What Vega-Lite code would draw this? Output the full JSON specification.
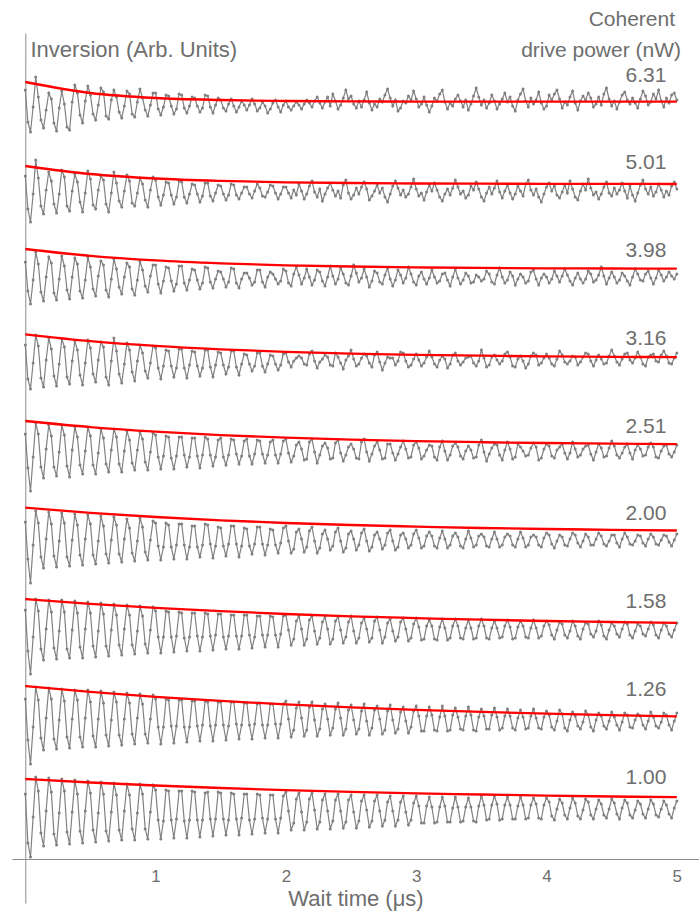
{
  "$schema": "https://vega.github.io/schema/vega-lite/v6.json",
  "width": 687,
  "height": 870,
  "autosize": {"type": "none"},
  "padding": {"left": 12, "top": 33, "right": 0, "bottom": 16},
  "background": "white",
  "config": {"view": {"stroke": null}, "font": "Liberation Sans"},
  "datasets": {
    "p100": [
      {"t":0,"v":10.9},{"t":0.02,"v":6.0},{"t":0.04,"v":4.6},{"t":0.06,"v":8.6},{"t":0.08,"v":12.6},
      {"t":0.1,"v":11.2},{"t":0.12,"v":7.0},{"t":0.14,"v":5.7},{"t":0.16,"v":9.2},{"t":0.18,"v":12.5},
      {"t":0.2,"v":11.1},{"t":0.22,"v":6.9},{"t":0.24,"v":5.8},{"t":0.26,"v":9.0},{"t":0.28,"v":12.4},
      {"t":0.3,"v":11.2},{"t":0.32,"v":7.1},{"t":0.34,"v":5.9},{"t":0.36,"v":9.1},{"t":0.38,"v":12.3},
      {"t":0.4,"v":10.9},{"t":0.42,"v":7.2},{"t":0.44,"v":6.0},{"t":0.46,"v":9.2},{"t":0.48,"v":12.2},
      {"t":0.5,"v":11.0},{"t":0.52,"v":7.3},{"t":0.54,"v":6.1},{"t":0.56,"v":9.0},{"t":0.58,"v":12.1},
      {"t":0.6,"v":10.9},{"t":0.62,"v":7.2},{"t":0.64,"v":6.2},{"t":0.66,"v":9.1},{"t":0.68,"v":12.0},
      {"t":0.7,"v":10.8},{"t":0.72,"v":7.3},{"t":0.74,"v":6.3},{"t":0.76,"v":9.2},{"t":0.78,"v":11.9},
      {"t":0.8,"v":10.8},{"t":0.82,"v":7.4},{"t":0.84,"v":6.3},{"t":0.86,"v":9.0},{"t":0.88,"v":11.9},
      {"t":0.9,"v":10.9},{"t":0.92,"v":7.4},{"t":0.94,"v":6.4},{"t":0.96,"v":9.1},{"t":0.98,"v":11.8},
      {"t":1,"v":11.3},{"t":1.02,"v":8.3},{"t":1.04,"v":6.4},{"t":1.06,"v":8.2},{"t":1.08,"v":11.3},
      {"t":1.1,"v":11.2},{"t":1.12,"v":8.3},{"t":1.14,"v":6.5},{"t":1.16,"v":8.4},{"t":1.18,"v":11.2},
      {"t":1.2,"v":11.2},{"t":1.22,"v":8.2},{"t":1.24,"v":6.5},{"t":1.26,"v":8.3},{"t":1.28,"v":11.2},
      {"t":1.3,"v":11.1},{"t":1.32,"v":8.3},{"t":1.34,"v":6.6},{"t":1.36,"v":8.3},{"t":1.38,"v":11.0},
      {"t":1.4,"v":11.1},{"t":1.42,"v":8.4},{"t":1.44,"v":6.7},{"t":1.46,"v":8.4},{"t":1.48,"v":11.1},
      {"t":1.5,"v":11.0},{"t":1.52,"v":8.4},{"t":1.54,"v":6.8},{"t":1.56,"v":8.3},{"t":1.58,"v":11.0},
      {"t":1.6,"v":10.9},{"t":1.62,"v":8.4},{"t":1.64,"v":6.8},{"t":1.66,"v":8.5},{"t":1.68,"v":10.9},
      {"t":1.7,"v":10.9},{"t":1.72,"v":8.3},{"t":1.74,"v":6.9},{"t":1.76,"v":8.4},{"t":1.78,"v":10.9},
      {"t":1.8,"v":10.8},{"t":1.82,"v":8.5},{"t":1.84,"v":7.0},{"t":1.86,"v":8.4},{"t":1.88,"v":10.8},
      {"t":1.9,"v":10.8},{"t":1.92,"v":8.4},{"t":1.94,"v":7.0},{"t":1.96,"v":8.5},{"t":1.98,"v":10.7},
      {"t":2,"v":11.1},{"t":2.02,"v":9.2},{"t":2.04,"v":7.3},{"t":2.06,"v":8.0},{"t":2.08,"v":10.4},
      {"t":2.1,"v":11.0},{"t":2.12,"v":9.1},{"t":2.14,"v":7.3},{"t":2.16,"v":8.1},{"t":2.18,"v":10.4},
      {"t":2.2,"v":11.0},{"t":2.22,"v":9.3},{"t":2.24,"v":7.4},{"t":2.26,"v":8.1},{"t":2.28,"v":10.3},
      {"t":2.3,"v":10.9},{"t":2.32,"v":9.2},{"t":2.34,"v":7.4},{"t":2.36,"v":8.2},{"t":2.38,"v":10.3},
      {"t":2.4,"v":10.9},{"t":2.42,"v":9.2},{"t":2.44,"v":7.5},{"t":2.46,"v":8.1},{"t":2.48,"v":10.3},
      {"t":2.5,"v":10.8},{"t":2.52,"v":9.1},{"t":2.54,"v":7.5},{"t":2.56,"v":8.2},{"t":2.58,"v":10.2},
      {"t":2.6,"v":10.8},{"t":2.62,"v":9.3},{"t":2.64,"v":7.6},{"t":2.66,"v":8.2},{"t":2.68,"v":10.2},
      {"t":2.7,"v":10.8},{"t":2.72,"v":9.2},{"t":2.74,"v":7.7},{"t":2.76,"v":8.3},{"t":2.78,"v":10.1},
      {"t":2.8,"v":10.7},{"t":2.82,"v":9.2},{"t":2.84,"v":7.7},{"t":2.86,"v":8.3},{"t":2.88,"v":10.1},
      {"t":2.9,"v":10.7},{"t":2.92,"v":9.1},{"t":2.94,"v":7.8},{"t":2.96,"v":8.3},{"t":2.98,"v":10.0},
      {"t":3,"v":10.7},{"t":3.02,"v":9.7},{"t":3.04,"v":8.0},{"t":3.06,"v":8.0},{"t":3.08,"v":9.7},
      {"t":3.1,"v":10.6},{"t":3.12,"v":9.6},{"t":3.14,"v":8.0},{"t":3.16,"v":8.1},{"t":3.18,"v":9.6},
      {"t":3.2,"v":10.6},{"t":3.22,"v":9.7},{"t":3.24,"v":8.1},{"t":3.26,"v":8.1},{"t":3.28,"v":9.5},
      {"t":3.3,"v":10.6},{"t":3.32,"v":9.6},{"t":3.34,"v":8.1},{"t":3.36,"v":8.2},{"t":3.38,"v":9.6},
      {"t":3.4,"v":10.5},{"t":3.42,"v":9.6},{"t":3.44,"v":8.2},{"t":3.46,"v":8.1},{"t":3.48,"v":9.7},
      {"t":3.5,"v":10.7},{"t":3.52,"v":9.8},{"t":3.54,"v":8.3},{"t":3.56,"v":8.4},{"t":3.58,"v":9.8},
      {"t":3.6,"v":10.7},{"t":3.62,"v":9.9},{"t":3.64,"v":8.3},{"t":3.66,"v":8.4},{"t":3.68,"v":9.8},
      {"t":3.7,"v":10.6},{"t":3.72,"v":9.8},{"t":3.74,"v":8.4},{"t":3.76,"v":8.4},{"t":3.78,"v":9.7},
      {"t":3.8,"v":10.6},{"t":3.82,"v":9.8},{"t":3.84,"v":8.4},{"t":3.86,"v":8.5},{"t":3.88,"v":9.8},
      {"t":3.9,"v":10.5},{"t":3.92,"v":9.9},{"t":3.94,"v":8.5},{"t":3.96,"v":8.4},{"t":3.98,"v":9.8},
      {"t":4,"v":10.5},{"t":4.02,"v":10.1},{"t":4.04,"v":8.7},{"t":4.06,"v":8.3},{"t":4.08,"v":9.4},
      {"t":4.1,"v":10.4},{"t":4.12,"v":10.0},{"t":4.14,"v":8.8},{"t":4.16,"v":8.4},{"t":4.18,"v":9.5},
      {"t":4.2,"v":10.5},{"t":4.22,"v":10.0},{"t":4.24,"v":8.7},{"t":4.26,"v":8.4},{"t":4.28,"v":9.3},
      {"t":4.3,"v":10.4},{"t":4.32,"v":10.1},{"t":4.34,"v":8.8},{"t":4.36,"v":8.4},{"t":4.38,"v":9.4},
      {"t":4.4,"v":10.3},{"t":4.42,"v":9.9},{"t":4.44,"v":8.8},{"t":4.46,"v":8.5},{"t":4.48,"v":9.4},
      {"t":4.5,"v":10.4},{"t":4.52,"v":10.0},{"t":4.54,"v":8.9},{"t":4.56,"v":8.4},{"t":4.58,"v":9.5},
      {"t":4.6,"v":10.3},{"t":4.62,"v":10.0},{"t":4.64,"v":8.8},{"t":4.66,"v":8.5},{"t":4.68,"v":9.3},
      {"t":4.7,"v":10.2},{"t":4.72,"v":9.9},{"t":4.74,"v":8.9},{"t":4.76,"v":8.5},{"t":4.78,"v":9.4},
      {"t":4.8,"v":10.3},{"t":4.82,"v":9.9},{"t":4.84,"v":8.8},{"t":4.86,"v":8.6},{"t":4.88,"v":9.4},
      {"t":4.9,"v":10.2},{"t":4.92,"v":9.8},{"t":4.94,"v":8.9},{"t":4.96,"v":8.5},{"t":4.98,"v":9.5},
      {"t":5,"v":10.2}
    ],
    "p126": [
      {"t":0,"v":20.4},{"t":0.02,"v":16.3},{"t":0.04,"v":13.9},{"t":0.06,"v":17.6},{"t":0.08,"v":21.6},
      {"t":0.1,"v":20.3},{"t":0.12,"v":16.5},{"t":0.14,"v":15.3},{"t":0.16,"v":18.5},{"t":0.18,"v":21.5},
      {"t":0.2,"v":20.4},{"t":0.22,"v":16.4},{"t":0.24,"v":15.4},{"t":0.26,"v":18.3},{"t":0.28,"v":21.4},
      {"t":0.3,"v":20.2},{"t":0.32,"v":16.6},{"t":0.34,"v":15.5},{"t":0.36,"v":18.4},{"t":0.38,"v":21.3},
      {"t":0.4,"v":20.3},{"t":0.42,"v":16.6},{"t":0.44,"v":15.6},{"t":0.46,"v":18.5},{"t":0.48,"v":21.3},
      {"t":0.5,"v":20.1},{"t":0.52,"v":16.7},{"t":0.54,"v":15.6},{"t":0.56,"v":18.4},{"t":0.58,"v":21.2},
      {"t":0.6,"v":20.0},{"t":0.62,"v":16.8},{"t":0.64,"v":15.7},{"t":0.66,"v":18.3},{"t":0.68,"v":21.1},
      {"t":0.7,"v":20.1},{"t":0.72,"v":16.8},{"t":0.74,"v":15.8},{"t":0.76,"v":18.4},{"t":0.78,"v":21.0},
      {"t":0.8,"v":20.0},{"t":0.82,"v":16.9},{"t":0.84,"v":15.9},{"t":0.86,"v":18.5},{"t":0.88,"v":20.9},
      {"t":0.9,"v":19.9},{"t":0.92,"v":16.9},{"t":0.94,"v":16.0},{"t":0.96,"v":18.4},{"t":0.98,"v":20.8},
      {"t":1,"v":20.4},{"t":1.02,"v":17.6},{"t":1.04,"v":15.9},{"t":1.06,"v":17.6},{"t":1.08,"v":20.4},
      {"t":1.1,"v":20.3},{"t":1.12,"v":17.7},{"t":1.14,"v":16.0},{"t":1.16,"v":17.7},{"t":1.18,"v":20.3},
      {"t":1.2,"v":20.3},{"t":1.22,"v":17.6},{"t":1.24,"v":16.1},{"t":1.26,"v":17.6},{"t":1.28,"v":20.2},
      {"t":1.3,"v":20.2},{"t":1.32,"v":17.7},{"t":1.34,"v":16.2},{"t":1.36,"v":17.8},{"t":1.38,"v":20.2},
      {"t":1.4,"v":20.1},{"t":1.42,"v":17.7},{"t":1.44,"v":16.2},{"t":1.46,"v":17.8},{"t":1.48,"v":20.1},
      {"t":1.5,"v":20.1},{"t":1.52,"v":17.8},{"t":1.54,"v":16.3},{"t":1.56,"v":17.7},{"t":1.58,"v":20.1},
      {"t":1.6,"v":20.1},{"t":1.62,"v":17.9},{"t":1.64,"v":16.4},{"t":1.66,"v":17.8},{"t":1.68,"v":20.0},
      {"t":1.7,"v":20.0},{"t":1.72,"v":17.8},{"t":1.74,"v":16.4},{"t":1.76,"v":17.9},{"t":1.78,"v":19.9},
      {"t":1.8,"v":20.0},{"t":1.82,"v":17.8},{"t":1.84,"v":16.5},{"t":1.86,"v":17.8},{"t":1.88,"v":19.9},
      {"t":1.9,"v":19.9},{"t":1.92,"v":17.9},{"t":1.94,"v":16.5},{"t":1.96,"v":17.9},{"t":1.98,"v":19.9},
      {"t":2,"v":20.2},{"t":2.02,"v":18.4},{"t":2.04,"v":16.6},{"t":2.06,"v":17.3},{"t":2.08,"v":19.5},
      {"t":2.1,"v":20.1},{"t":2.12,"v":18.5},{"t":2.14,"v":16.7},{"t":2.16,"v":17.3},{"t":2.18,"v":19.6},
      {"t":2.2,"v":20.1},{"t":2.22,"v":18.3},{"t":2.24,"v":16.7},{"t":2.26,"v":17.4},{"t":2.28,"v":19.4},
      {"t":2.3,"v":19.9},{"t":2.32,"v":18.4},{"t":2.34,"v":16.8},{"t":2.36,"v":17.5},{"t":2.38,"v":19.4},
      {"t":2.4,"v":20.0},{"t":2.42,"v":18.5},{"t":2.44,"v":16.8},{"t":2.46,"v":17.4},{"t":2.48,"v":19.3},
      {"t":2.5,"v":19.8},{"t":2.52,"v":18.3},{"t":2.54,"v":16.9},{"t":2.56,"v":17.4},{"t":2.58,"v":19.2},
      {"t":2.6,"v":19.9},{"t":2.62,"v":18.2},{"t":2.64,"v":16.8},{"t":2.66,"v":17.5},{"t":2.68,"v":19.3},
      {"t":2.7,"v":19.7},{"t":2.72,"v":18.4},{"t":2.74,"v":16.9},{"t":2.76,"v":17.3},{"t":2.78,"v":19.2},
      {"t":2.8,"v":19.8},{"t":2.82,"v":18.3},{"t":2.84,"v":17.0},{"t":2.86,"v":17.4},{"t":2.88,"v":19.1},
      {"t":2.9,"v":19.6},{"t":2.92,"v":18.2},{"t":2.94,"v":17.0},{"t":2.96,"v":17.6},{"t":2.98,"v":19.2},
      {"t":3,"v":19.7},{"t":3.02,"v":18.7},{"t":3.04,"v":17.2},{"t":3.06,"v":17.2},{"t":3.08,"v":18.7},
      {"t":3.1,"v":19.6},{"t":3.12,"v":18.8},{"t":3.14,"v":17.3},{"t":3.16,"v":17.2},{"t":3.18,"v":18.6},
      {"t":3.2,"v":19.7},{"t":3.22,"v":18.7},{"t":3.24,"v":17.2},{"t":3.26,"v":17.3},{"t":3.28,"v":18.8},
      {"t":3.3,"v":19.5},{"t":3.32,"v":18.6},{"t":3.34,"v":17.4},{"t":3.36,"v":17.3},{"t":3.38,"v":18.7},
      {"t":3.4,"v":19.6},{"t":3.42,"v":18.8},{"t":3.44,"v":17.3},{"t":3.46,"v":17.2},{"t":3.48,"v":18.6},
      {"t":3.5,"v":19.4},{"t":3.52,"v":18.7},{"t":3.54,"v":17.4},{"t":3.56,"v":17.4},{"t":3.58,"v":18.8},
      {"t":3.6,"v":19.5},{"t":3.62,"v":18.6},{"t":3.64,"v":17.3},{"t":3.66,"v":17.5},{"t":3.68,"v":18.7},
      {"t":3.7,"v":19.4},{"t":3.72,"v":18.7},{"t":3.74,"v":17.5},{"t":3.76,"v":17.3},{"t":3.78,"v":18.5},
      {"t":3.8,"v":19.3},{"t":3.82,"v":18.6},{"t":3.84,"v":17.4},{"t":3.86,"v":17.5},{"t":3.88,"v":18.7},
      {"t":3.9,"v":19.4},{"t":3.92,"v":18.5},{"t":3.94,"v":17.5},{"t":3.96,"v":17.4},{"t":3.98,"v":18.6},
      {"t":4,"v":19.2},{"t":4.02,"v":18.8},{"t":4.04,"v":17.6},{"t":4.06,"v":17.3},{"t":4.08,"v":18.2},
      {"t":4.1,"v":19.3},{"t":4.12,"v":18.9},{"t":4.14,"v":17.5},{"t":4.16,"v":17.2},{"t":4.18,"v":18.3},
      {"t":4.2,"v":19.1},{"t":4.22,"v":18.7},{"t":4.24,"v":17.7},{"t":4.26,"v":17.4},{"t":4.28,"v":18.1},
      {"t":4.3,"v":19.2},{"t":4.32,"v":18.8},{"t":4.34,"v":17.6},{"t":4.36,"v":17.2},{"t":4.38,"v":18.3},
      {"t":4.4,"v":19.0},{"t":4.42,"v":18.7},{"t":4.44,"v":17.7},{"t":4.46,"v":17.4},{"t":4.48,"v":18.2},
      {"t":4.5,"v":19.1},{"t":4.52,"v":18.6},{"t":4.54,"v":17.8},{"t":4.56,"v":17.3},{"t":4.58,"v":18.1},
      {"t":4.6,"v":19.0},{"t":4.62,"v":18.8},{"t":4.64,"v":17.6},{"t":4.66,"v":17.5},{"t":4.68,"v":18.3},
      {"t":4.7,"v":18.9},{"t":4.72,"v":18.7},{"t":4.74,"v":17.8},{"t":4.76,"v":17.4},{"t":4.78,"v":18.2},
      {"t":4.8,"v":19.1},{"t":4.82,"v":18.6},{"t":4.84,"v":17.7},{"t":4.86,"v":17.5},{"t":4.88,"v":18.1},
      {"t":4.9,"v":19.0},{"t":4.92,"v":18.8},{"t":4.94,"v":17.8},{"t":4.96,"v":17.3},{"t":4.98,"v":18.2},
      {"t":5,"v":19.0}
    ],
    "p158": [
      {"t":0,"v":29.3},{"t":0.02,"v":25.2},{"t":0.04,"v":22.9},{"t":0.06,"v":26.6},{"t":0.08,"v":30.4},
      {"t":0.1,"v":29.2},{"t":0.12,"v":25.4},{"t":0.14,"v":24.3},{"t":0.16,"v":27.4},{"t":0.18,"v":30.3},
      {"t":0.2,"v":29.1},{"t":0.22,"v":25.5},{"t":0.24,"v":24.4},{"t":0.26,"v":27.2},{"t":0.28,"v":30.3},
      {"t":0.3,"v":29.1},{"t":0.32,"v":25.4},{"t":0.34,"v":24.5},{"t":0.36,"v":27.3},{"t":0.38,"v":30.2},
      {"t":0.4,"v":29.0},{"t":0.42,"v":25.6},{"t":0.44,"v":24.5},{"t":0.46,"v":27.4},{"t":0.48,"v":30.1},
      {"t":0.5,"v":29.0},{"t":0.52,"v":25.7},{"t":0.54,"v":24.6},{"t":0.56,"v":27.2},{"t":0.58,"v":30.0},
      {"t":0.6,"v":28.9},{"t":0.62,"v":25.7},{"t":0.64,"v":24.7},{"t":0.66,"v":27.3},{"t":0.68,"v":29.9},
      {"t":0.7,"v":28.8},{"t":0.72,"v":25.8},{"t":0.74,"v":24.8},{"t":0.76,"v":27.4},{"t":0.78,"v":29.8},
      {"t":0.8,"v":28.8},{"t":0.82,"v":25.8},{"t":0.84,"v":24.9},{"t":0.86,"v":27.2},{"t":0.88,"v":29.7},
      {"t":0.9,"v":28.7},{"t":0.92,"v":25.9},{"t":0.94,"v":25.0},{"t":0.96,"v":27.3},{"t":0.98,"v":29.6},
      {"t":1,"v":29.2},{"t":1.02,"v":26.6},{"t":1.04,"v":25.0},{"t":1.06,"v":26.6},{"t":1.08,"v":29.2},
      {"t":1.1,"v":29.1},{"t":1.12,"v":26.6},{"t":1.14,"v":25.1},{"t":1.16,"v":26.7},{"t":1.18,"v":29.1},
      {"t":1.2,"v":29.0},{"t":1.22,"v":26.5},{"t":1.24,"v":25.2},{"t":1.26,"v":26.6},{"t":1.28,"v":29.0},
      {"t":1.3,"v":29.0},{"t":1.32,"v":26.7},{"t":1.34,"v":25.2},{"t":1.36,"v":26.6},{"t":1.38,"v":29.0},
      {"t":1.4,"v":28.9},{"t":1.42,"v":26.7},{"t":1.44,"v":25.3},{"t":1.46,"v":26.8},{"t":1.48,"v":28.9},
      {"t":1.5,"v":28.9},{"t":1.52,"v":26.6},{"t":1.54,"v":25.4},{"t":1.56,"v":26.7},{"t":1.58,"v":28.8},
      {"t":1.6,"v":28.8},{"t":1.62,"v":26.7},{"t":1.64,"v":25.4},{"t":1.66,"v":26.7},{"t":1.68,"v":28.8},
      {"t":1.7,"v":28.8},{"t":1.72,"v":26.8},{"t":1.74,"v":25.5},{"t":1.76,"v":26.6},{"t":1.78,"v":28.7},
      {"t":1.8,"v":28.7},{"t":1.82,"v":26.8},{"t":1.84,"v":25.6},{"t":1.86,"v":26.8},{"t":1.88,"v":28.7},
      {"t":1.9,"v":28.6},{"t":1.92,"v":26.8},{"t":1.94,"v":25.6},{"t":1.96,"v":26.9},{"t":1.98,"v":28.7},
      {"t":2,"v":28.8},{"t":2.02,"v":27.3},{"t":2.04,"v":25.8},{"t":2.06,"v":26.4},{"t":2.08,"v":28.2},
      {"t":2.1,"v":28.7},{"t":2.12,"v":27.4},{"t":2.14,"v":25.8},{"t":2.16,"v":26.4},{"t":2.18,"v":28.3},
      {"t":2.2,"v":28.7},{"t":2.22,"v":27.2},{"t":2.24,"v":25.9},{"t":2.26,"v":26.5},{"t":2.28,"v":28.1},
      {"t":2.3,"v":28.6},{"t":2.32,"v":27.4},{"t":2.34,"v":25.9},{"t":2.36,"v":26.4},{"t":2.38,"v":28.2},
      {"t":2.4,"v":28.6},{"t":2.42,"v":27.3},{"t":2.44,"v":26.0},{"t":2.46,"v":26.6},{"t":2.48,"v":28.1},
      {"t":2.5,"v":28.7},{"t":2.52,"v":27.2},{"t":2.54,"v":26.0},{"t":2.56,"v":26.5},{"t":2.58,"v":28.0},
      {"t":2.6,"v":28.5},{"t":2.62,"v":27.4},{"t":2.64,"v":26.1},{"t":2.66,"v":26.5},{"t":2.68,"v":28.2},
      {"t":2.7,"v":28.6},{"t":2.72,"v":27.3},{"t":2.74,"v":26.0},{"t":2.76,"v":26.6},{"t":2.78,"v":28.0},
      {"t":2.8,"v":28.4},{"t":2.82,"v":27.2},{"t":2.84,"v":26.2},{"t":2.86,"v":26.6},{"t":2.88,"v":28.1},
      {"t":2.9,"v":28.5},{"t":2.92,"v":27.4},{"t":2.94,"v":26.2},{"t":2.96,"v":26.5},{"t":2.98,"v":27.9},
      {"t":3,"v":28.5},{"t":3.02,"v":27.6},{"t":3.04,"v":26.3},{"t":3.06,"v":26.4},{"t":3.08,"v":27.7},
      {"t":3.1,"v":28.3},{"t":3.12,"v":27.7},{"t":3.14,"v":26.4},{"t":3.16,"v":26.3},{"t":3.18,"v":27.6},
      {"t":3.2,"v":28.4},{"t":3.22,"v":27.5},{"t":3.24,"v":26.3},{"t":3.26,"v":26.5},{"t":3.28,"v":27.7},
      {"t":3.3,"v":28.4},{"t":3.32,"v":27.7},{"t":3.34,"v":26.5},{"t":3.36,"v":26.4},{"t":3.38,"v":27.5},
      {"t":3.4,"v":28.3},{"t":3.42,"v":27.5},{"t":3.44,"v":26.4},{"t":3.46,"v":26.5},{"t":3.48,"v":27.7},
      {"t":3.5,"v":28.4},{"t":3.52,"v":27.7},{"t":3.54,"v":26.5},{"t":3.56,"v":26.4},{"t":3.58,"v":27.5},
      {"t":3.6,"v":28.2},{"t":3.62,"v":27.5},{"t":3.64,"v":26.5},{"t":3.66,"v":26.6},{"t":3.68,"v":27.7},
      {"t":3.7,"v":28.3},{"t":3.72,"v":27.6},{"t":3.74,"v":26.4},{"t":3.76,"v":26.5},{"t":3.78,"v":27.6},
      {"t":3.8,"v":28.2},{"t":3.82,"v":27.7},{"t":3.84,"v":26.6},{"t":3.86,"v":26.5},{"t":3.88,"v":27.5},
      {"t":3.9,"v":28.3},{"t":3.92,"v":27.5},{"t":3.94,"v":26.5},{"t":3.96,"v":26.7},{"t":3.98,"v":27.7},
      {"t":4,"v":28.2},{"t":4.02,"v":27.8},{"t":4.04,"v":26.8},{"t":4.06,"v":26.4},{"t":4.08,"v":27.3},
      {"t":4.1,"v":28.1},{"t":4.12,"v":27.9},{"t":4.14,"v":26.8},{"t":4.16,"v":26.5},{"t":4.18,"v":27.2},
      {"t":4.2,"v":28.2},{"t":4.22,"v":27.7},{"t":4.24,"v":26.7},{"t":4.26,"v":26.4},{"t":4.28,"v":27.4},
      {"t":4.3,"v":28.0},{"t":4.32,"v":27.9},{"t":4.34,"v":26.9},{"t":4.36,"v":26.6},{"t":4.38,"v":27.2},
      {"t":4.4,"v":28.2},{"t":4.42,"v":27.8},{"t":4.44,"v":26.7},{"t":4.46,"v":26.4},{"t":4.48,"v":27.3},
      {"t":4.5,"v":28.0},{"t":4.52,"v":27.7},{"t":4.54,"v":26.9},{"t":4.56,"v":26.6},{"t":4.58,"v":27.4},
      {"t":4.6,"v":28.1},{"t":4.62,"v":27.9},{"t":4.64,"v":26.8},{"t":4.66,"v":26.5},{"t":4.68,"v":27.2},
      {"t":4.7,"v":27.9},{"t":4.72,"v":27.7},{"t":4.74,"v":26.9},{"t":4.76,"v":26.7},{"t":4.78,"v":27.4},
      {"t":4.8,"v":28.1},{"t":4.82,"v":27.8},{"t":4.84,"v":26.8},{"t":4.86,"v":26.5},{"t":4.88,"v":27.3},
      {"t":4.9,"v":28.0},{"t":4.92,"v":27.7},{"t":4.94,"v":26.9},{"t":4.96,"v":26.6},{"t":4.98,"v":27.3},
      {"t":5,"v":28.0}
    ],
    "p200": [
      {"t":0,"v":38.1},{"t":0.02,"v":34.4},{"t":0.04,"v":32.0},{"t":0.06,"v":35.8},{"t":0.08,"v":39.2},
      {"t":0.1,"v":38.0},{"t":0.12,"v":34.6},{"t":0.14,"v":33.5},{"t":0.16,"v":36.4},{"t":0.18,"v":39.1},
      {"t":0.2,"v":37.9},{"t":0.22,"v":34.7},{"t":0.24,"v":33.6},{"t":0.26,"v":36.2},{"t":0.28,"v":39.0},
      {"t":0.3,"v":38.0},{"t":0.32,"v":34.6},{"t":0.34,"v":33.7},{"t":0.36,"v":36.3},{"t":0.38,"v":38.9},
      {"t":0.4,"v":37.8},{"t":0.42,"v":34.8},{"t":0.44,"v":33.8},{"t":0.46,"v":36.4},{"t":0.48,"v":38.8},
      {"t":0.5,"v":37.9},{"t":0.52,"v":34.8},{"t":0.54,"v":33.9},{"t":0.56,"v":36.2},{"t":0.58,"v":38.7},
      {"t":0.6,"v":37.7},{"t":0.62,"v":34.9},{"t":0.64,"v":34.0},{"t":0.66,"v":36.3},{"t":0.68,"v":38.6},
      {"t":0.7,"v":37.8},{"t":0.72,"v":34.9},{"t":0.74,"v":34.1},{"t":0.76,"v":36.4},{"t":0.78,"v":38.4},
      {"t":0.8,"v":37.5},{"t":0.82,"v":35.0},{"t":0.84,"v":34.2},{"t":0.86,"v":36.2},{"t":0.88,"v":38.5},
      {"t":0.9,"v":37.6},{"t":0.92,"v":35.1},{"t":0.94,"v":34.3},{"t":0.96,"v":36.3},{"t":0.98,"v":38.2},
      {"t":1,"v":38.0},{"t":1.02,"v":35.7},{"t":1.04,"v":34.3},{"t":1.06,"v":35.6},{"t":1.08,"v":38.0},
      {"t":1.1,"v":37.8},{"t":1.12,"v":35.6},{"t":1.14,"v":34.4},{"t":1.16,"v":35.8},{"t":1.18,"v":37.9},
      {"t":1.2,"v":37.9},{"t":1.22,"v":35.8},{"t":1.24,"v":34.4},{"t":1.26,"v":35.6},{"t":1.28,"v":37.7},
      {"t":1.3,"v":37.7},{"t":1.32,"v":35.6},{"t":1.34,"v":34.6},{"t":1.36,"v":35.8},{"t":1.38,"v":37.9},
      {"t":1.4,"v":37.8},{"t":1.42,"v":35.9},{"t":1.44,"v":34.5},{"t":1.46,"v":35.7},{"t":1.48,"v":37.6},
      {"t":1.5,"v":37.5},{"t":1.52,"v":35.7},{"t":1.54,"v":34.7},{"t":1.56,"v":35.9},{"t":1.58,"v":37.7},
      {"t":1.6,"v":37.7},{"t":1.62,"v":35.9},{"t":1.64,"v":34.6},{"t":1.66,"v":35.7},{"t":1.68,"v":37.5},
      {"t":1.7,"v":37.4},{"t":1.72,"v":35.7},{"t":1.74,"v":34.9},{"t":1.76,"v":35.9},{"t":1.78,"v":37.6},
      {"t":1.8,"v":37.6},{"t":1.82,"v":35.9},{"t":1.84,"v":34.8},{"t":1.86,"v":35.8},{"t":1.88,"v":37.4},
      {"t":1.9,"v":37.3},{"t":1.92,"v":35.8},{"t":1.94,"v":35.0},{"t":1.96,"v":36.0},{"t":1.98,"v":37.5},
      {"t":2,"v":37.7},{"t":2.02,"v":36.2},{"t":2.04,"v":35.0},{"t":2.06,"v":35.4},{"t":2.08,"v":37.1},
      {"t":2.1,"v":37.4},{"t":2.12,"v":36.4},{"t":2.14,"v":35.1},{"t":2.16,"v":35.6},{"t":2.18,"v":37.2},
      {"t":2.2,"v":37.6},{"t":2.22,"v":36.2},{"t":2.24,"v":35.0},{"t":2.26,"v":35.5},{"t":2.28,"v":36.9},
      {"t":2.3,"v":37.3},{"t":2.32,"v":36.4},{"t":2.34,"v":35.3},{"t":2.36,"v":35.7},{"t":2.38,"v":37.1},
      {"t":2.4,"v":37.5},{"t":2.42,"v":36.2},{"t":2.44,"v":35.1},{"t":2.46,"v":35.5},{"t":2.48,"v":36.9},
      {"t":2.5,"v":37.2},{"t":2.52,"v":36.4},{"t":2.54,"v":35.3},{"t":2.56,"v":35.8},{"t":2.58,"v":37.0},
      {"t":2.6,"v":37.4},{"t":2.62,"v":36.2},{"t":2.64,"v":35.2},{"t":2.66,"v":35.6},{"t":2.68,"v":36.8},
      {"t":2.7,"v":37.1},{"t":2.72,"v":36.4},{"t":2.74,"v":35.4},{"t":2.76,"v":35.8},{"t":2.78,"v":37.0},
      {"t":2.8,"v":37.3},{"t":2.82,"v":36.2},{"t":2.84,"v":35.3},{"t":2.86,"v":35.6},{"t":2.88,"v":36.8},
      {"t":2.9,"v":37.0},{"t":2.92,"v":36.4},{"t":2.94,"v":35.5},{"t":2.96,"v":35.8},{"t":2.98,"v":36.9},
      {"t":3,"v":37.3},{"t":3.02,"v":36.5},{"t":3.04,"v":35.5},{"t":3.06,"v":35.7},{"t":3.08,"v":36.7},
      {"t":3.1,"v":37.1},{"t":3.12,"v":36.7},{"t":3.14,"v":35.7},{"t":3.16,"v":35.5},{"t":3.18,"v":36.5},
      {"t":3.2,"v":37.2},{"t":3.22,"v":36.4},{"t":3.24,"v":35.5},{"t":3.26,"v":35.8},{"t":3.28,"v":36.7},
      {"t":3.3,"v":37.0},{"t":3.32,"v":36.6},{"t":3.34,"v":35.7},{"t":3.36,"v":35.5},{"t":3.38,"v":36.4},
      {"t":3.4,"v":37.2},{"t":3.42,"v":36.5},{"t":3.44,"v":35.6},{"t":3.46,"v":35.8},{"t":3.48,"v":36.7},
      {"t":3.5,"v":36.9},{"t":3.52,"v":36.6},{"t":3.54,"v":35.7},{"t":3.56,"v":35.6},{"t":3.58,"v":36.4},
      {"t":3.6,"v":37.1},{"t":3.62,"v":36.4},{"t":3.64,"v":35.6},{"t":3.66,"v":35.8},{"t":3.68,"v":36.6},
      {"t":3.7,"v":36.9},{"t":3.72,"v":36.7},{"t":3.74,"v":35.8},{"t":3.76,"v":35.6},{"t":3.78,"v":36.4},
      {"t":3.8,"v":37.1},{"t":3.82,"v":36.5},{"t":3.84,"v":35.6},{"t":3.86,"v":35.8},{"t":3.88,"v":36.6},
      {"t":3.9,"v":36.8},{"t":3.92,"v":36.6},{"t":3.94,"v":35.8},{"t":3.96,"v":35.6},{"t":3.98,"v":36.5},
      {"t":4,"v":37.0},{"t":4.02,"v":36.8},{"t":4.04,"v":35.9},{"t":4.06,"v":35.5},{"t":4.08,"v":36.2},
      {"t":4.1,"v":36.8},{"t":4.12,"v":36.6},{"t":4.14,"v":35.8},{"t":4.16,"v":35.7},{"t":4.18,"v":36.4},
      {"t":4.2,"v":37.0},{"t":4.22,"v":36.8},{"t":4.24,"v":36.0},{"t":4.26,"v":35.6},{"t":4.28,"v":36.2},
      {"t":4.3,"v":36.9},{"t":4.32,"v":36.6},{"t":4.34,"v":35.8},{"t":4.36,"v":35.8},{"t":4.38,"v":36.4},
      {"t":4.4,"v":37.0},{"t":4.42,"v":36.7},{"t":4.44,"v":35.9},{"t":4.46,"v":35.7},{"t":4.48,"v":36.2},
      {"t":4.5,"v":36.8},{"t":4.52,"v":36.8},{"t":4.54,"v":36.0},{"t":4.56,"v":35.6},{"t":4.58,"v":36.4},
      {"t":4.6,"v":37.0},{"t":4.62,"v":36.6},{"t":4.64,"v":35.9},{"t":4.66,"v":35.8},{"t":4.68,"v":36.2},
      {"t":4.7,"v":36.8},{"t":4.72,"v":36.7},{"t":4.74,"v":36.0},{"t":4.76,"v":35.7},{"t":4.78,"v":36.4},
      {"t":4.8,"v":36.9},{"t":4.82,"v":36.6},{"t":4.84,"v":35.9},{"t":4.86,"v":35.8},{"t":4.88,"v":36.3},
      {"t":4.9,"v":36.8},{"t":4.92,"v":36.7},{"t":4.94,"v":36.1},{"t":4.96,"v":35.7},{"t":4.98,"v":36.3},
      {"t":5,"v":36.9}
    ],
    "p251": [
      {"t":0,"v":46.9},{"t":0.02,"v":43.5},{"t":0.04,"v":41.2},{"t":0.06,"v":44.6},{"t":0.08,"v":48.0},
      {"t":0.1,"v":46.9},{"t":0.12,"v":43.6},{"t":0.14,"v":42.5},{"t":0.16,"v":45.4},{"t":0.18,"v":47.8},
      {"t":0.2,"v":46.7},{"t":0.22,"v":43.6},{"t":0.24,"v":42.7},{"t":0.26,"v":45.1},{"t":0.28,"v":47.8},
      {"t":0.3,"v":46.8},{"t":0.32,"v":43.7},{"t":0.34,"v":42.6},{"t":0.36,"v":45.3},{"t":0.38,"v":47.6},
      {"t":0.4,"v":46.6},{"t":0.42,"v":43.8},{"t":0.44,"v":42.9},{"t":0.46,"v":45.2},{"t":0.48,"v":47.6},
      {"t":0.5,"v":46.7},{"t":0.52,"v":43.8},{"t":0.54,"v":42.9},{"t":0.56,"v":45.0},{"t":0.58,"v":47.4},
      {"t":0.6,"v":46.5},{"t":0.62,"v":43.9},{"t":0.64,"v":43.1},{"t":0.66,"v":45.3},{"t":0.68,"v":47.4},
      {"t":0.7,"v":46.6},{"t":0.72,"v":43.9},{"t":0.74,"v":43.1},{"t":0.76,"v":45.2},{"t":0.78,"v":47.2},
      {"t":0.8,"v":46.3},{"t":0.82,"v":44.0},{"t":0.84,"v":43.3},{"t":0.86,"v":45.3},{"t":0.88,"v":47.1},
      {"t":0.9,"v":46.4},{"t":0.92,"v":44.1},{"t":0.94,"v":43.3},{"t":0.96,"v":45.1},{"t":0.98,"v":47.0},
      {"t":1,"v":46.8},{"t":1.02,"v":44.6},{"t":1.04,"v":43.4},{"t":1.06,"v":44.7},{"t":1.08,"v":46.7},
      {"t":1.1,"v":46.6},{"t":1.12,"v":44.5},{"t":1.14,"v":43.4},{"t":1.16,"v":44.7},{"t":1.18,"v":46.6},
      {"t":1.2,"v":46.6},{"t":1.22,"v":44.8},{"t":1.24,"v":43.6},{"t":1.26,"v":44.6},{"t":1.28,"v":46.5},
      {"t":1.3,"v":46.5},{"t":1.32,"v":44.7},{"t":1.34,"v":43.5},{"t":1.36,"v":44.8},{"t":1.38,"v":46.6},
      {"t":1.4,"v":46.4},{"t":1.42,"v":44.8},{"t":1.44,"v":43.7},{"t":1.46,"v":44.6},{"t":1.48,"v":46.3},
      {"t":1.5,"v":46.5},{"t":1.52,"v":44.6},{"t":1.54,"v":43.8},{"t":1.56,"v":44.8},{"t":1.58,"v":46.4},
      {"t":1.6,"v":46.3},{"t":1.62,"v":44.9},{"t":1.64,"v":43.9},{"t":1.66,"v":44.7},{"t":1.68,"v":46.2},
      {"t":1.7,"v":46.4},{"t":1.72,"v":44.7},{"t":1.74,"v":43.9},{"t":1.76,"v":44.9},{"t":1.78,"v":46.3},
      {"t":1.8,"v":46.2},{"t":1.82,"v":44.9},{"t":1.84,"v":44.0},{"t":1.86,"v":44.8},{"t":1.88,"v":46.1},
      {"t":1.9,"v":46.3},{"t":1.92,"v":44.8},{"t":1.94,"v":44.0},{"t":1.96,"v":44.9},{"t":1.98,"v":46.2},
      {"t":2,"v":46.4},{"t":2.02,"v":45.0},{"t":2.04,"v":44.1},{"t":2.06,"v":44.7},{"t":2.08,"v":45.8},
      {"t":2.1,"v":46.1},{"t":2.12,"v":45.4},{"t":2.14,"v":44.3},{"t":2.16,"v":44.4},{"t":2.18,"v":46.1},
      {"t":2.2,"v":46.4},{"t":2.22,"v":45.1},{"t":2.24,"v":44.0},{"t":2.26,"v":44.8},{"t":2.28,"v":45.7},
      {"t":2.3,"v":46.0},{"t":2.32,"v":45.5},{"t":2.34,"v":44.4},{"t":2.36,"v":44.5},{"t":2.38,"v":46.0},
      {"t":2.4,"v":46.3},{"t":2.42,"v":45.0},{"t":2.44,"v":44.2},{"t":2.46,"v":44.8},{"t":2.48,"v":45.6},
      {"t":2.5,"v":45.9},{"t":2.52,"v":45.4},{"t":2.54,"v":44.5},{"t":2.56,"v":44.4},{"t":2.58,"v":46.1},
      {"t":2.6,"v":46.4},{"t":2.62,"v":45.1},{"t":2.64,"v":44.2},{"t":2.66,"v":44.9},{"t":2.68,"v":45.7},
      {"t":2.7,"v":46.1},{"t":2.72,"v":45.3},{"t":2.74,"v":44.4},{"t":2.76,"v":44.5},{"t":2.78,"v":45.9},
      {"t":2.8,"v":45.9},{"t":2.82,"v":45.0},{"t":2.84,"v":44.3},{"t":2.86,"v":44.9},{"t":2.88,"v":45.6},
      {"t":2.9,"v":46.2},{"t":2.92,"v":45.4},{"t":2.94,"v":44.5},{"t":2.96,"v":44.6},{"t":2.98,"v":45.8},
      {"t":3,"v":46.1},{"t":3.02,"v":45.5},{"t":3.04,"v":44.4},{"t":3.06,"v":44.7},{"t":3.08,"v":45.3},
      {"t":3.1,"v":45.8},{"t":3.12,"v":45.7},{"t":3.14,"v":44.6},{"t":3.16,"v":44.3},{"t":3.18,"v":45.6},
      {"t":3.2,"v":46.2},{"t":3.22,"v":45.2},{"t":3.24,"v":44.3},{"t":3.26,"v":44.8},{"t":3.28,"v":45.7},
      {"t":3.3,"v":46.0},{"t":3.32,"v":45.6},{"t":3.34,"v":44.7},{"t":3.36,"v":44.4},{"t":3.38,"v":45.2},
      {"t":3.4,"v":45.7},{"t":3.42,"v":45.3},{"t":3.44,"v":44.5},{"t":3.46,"v":44.6},{"t":3.48,"v":45.8},
      {"t":3.5,"v":46.3},{"t":3.52,"v":45.1},{"t":3.54,"v":44.2},{"t":3.56,"v":44.9},{"t":3.58,"v":45.5},
      {"t":3.6,"v":45.9},{"t":3.62,"v":45.8},{"t":3.64,"v":44.8},{"t":3.66,"v":44.3},{"t":3.68,"v":45.3},
      {"t":3.7,"v":46.1},{"t":3.72,"v":45.4},{"t":3.74,"v":44.4},{"t":3.76,"v":44.6},{"t":3.78,"v":45.9},
      {"t":3.8,"v":45.6},{"t":3.82,"v":45.2},{"t":3.84,"v":44.7},{"t":3.86,"v":44.8},{"t":3.88,"v":45.5},
      {"t":3.9,"v":46.0},{"t":3.92,"v":45.6},{"t":3.94,"v":44.3},{"t":3.96,"v":44.5},{"t":3.98,"v":45.4},
      {"t":4,"v":45.9},{"t":4.02,"v":45.7},{"t":4.04,"v":44.7},{"t":4.06,"v":44.5},{"t":4.08,"v":45.3},
      {"t":4.1,"v":45.6},{"t":4.12,"v":45.9},{"t":4.14,"v":45.0},{"t":4.16,"v":44.4},{"t":4.18,"v":45.0},
      {"t":4.2,"v":46.1},{"t":4.22,"v":45.4},{"t":4.24,"v":44.6},{"t":4.26,"v":44.8},{"t":4.28,"v":45.4},
      {"t":4.3,"v":45.7},{"t":4.32,"v":45.8},{"t":4.34,"v":44.9},{"t":4.36,"v":44.3},{"t":4.38,"v":45.1},
      {"t":4.4,"v":45.9},{"t":4.42,"v":45.5},{"t":4.44,"v":44.6},{"t":4.46,"v":44.7},{"t":4.48,"v":45.5},
      {"t":4.5,"v":46.2},{"t":4.52,"v":45.7},{"t":4.54,"v":44.8},{"t":4.56,"v":44.5},{"t":4.58,"v":45.0},
      {"t":4.6,"v":45.6},{"t":4.62,"v":45.9},{"t":4.64,"v":45.0},{"t":4.66,"v":44.4},{"t":4.68,"v":45.3},
      {"t":4.7,"v":45.8},{"t":4.72,"v":45.4},{"t":4.74,"v":44.7},{"t":4.76,"v":44.8},{"t":4.78,"v":45.6},
      {"t":4.8,"v":46.0},{"t":4.82,"v":45.6},{"t":4.84,"v":44.6},{"t":4.86,"v":44.5},{"t":4.88,"v":45.2},
      {"t":4.9,"v":45.7},{"t":4.92,"v":45.8},{"t":4.94,"v":44.9},{"t":4.96,"v":44.6},{"t":4.98,"v":45.1},
      {"t":5,"v":45.8}
    ],
    "p316": [
      {"t":0,"v":55.8},{"t":0.02,"v":52.4},{"t":0.04,"v":51.4},{"t":0.06,"v":54.0},{"t":0.08,"v":56.8},
      {"t":0.1,"v":55.7},{"t":0.12,"v":52.5},{"t":0.14,"v":51.6},{"t":0.16,"v":54.3},{"t":0.18,"v":56.5},
      {"t":0.2,"v":55.4},{"t":0.22,"v":52.7},{"t":0.24,"v":51.7},{"t":0.26,"v":53.9},{"t":0.28,"v":56.4},
      {"t":0.3,"v":55.6},{"t":0.32,"v":52.6},{"t":0.34,"v":51.9},{"t":0.36,"v":54.2},{"t":0.38,"v":56.2},
      {"t":0.4,"v":55.3},{"t":0.42,"v":52.8},{"t":0.44,"v":51.8},{"t":0.46,"v":54.0},{"t":0.48,"v":56.3},
      {"t":0.5,"v":55.5},{"t":0.52,"v":52.9},{"t":0.54,"v":52.1},{"t":0.56,"v":54.3},{"t":0.58,"v":56.1},
      {"t":0.6,"v":55.6},{"t":0.62,"v":52.6},{"t":0.64,"v":51.8},{"t":0.66,"v":54.2},{"t":0.68,"v":56.5},
      {"t":0.7,"v":55.2},{"t":0.72,"v":52.9},{"t":0.74,"v":52.0},{"t":0.76,"v":53.9},{"t":0.78,"v":56.0},
      {"t":0.8,"v":55.3},{"t":0.82,"v":53.1},{"t":0.84,"v":52.2},{"t":0.86,"v":54.2},{"t":0.88,"v":55.8},
      {"t":0.9,"v":55.0},{"t":0.92,"v":53.2},{"t":0.94,"v":52.5},{"t":0.96,"v":54.0},{"t":0.98,"v":55.7},
      {"t":1,"v":55.5},{"t":1.02,"v":53.5},{"t":1.04,"v":52.4},{"t":1.06,"v":53.7},{"t":1.08,"v":55.3},
      {"t":1.1,"v":55.2},{"t":1.12,"v":53.7},{"t":1.14,"v":52.6},{"t":1.16,"v":53.5},{"t":1.18,"v":55.4},
      {"t":1.2,"v":55.4},{"t":1.22,"v":53.5},{"t":1.24,"v":52.5},{"t":1.26,"v":53.8},{"t":1.28,"v":55.2},
      {"t":1.3,"v":55.1},{"t":1.32,"v":53.7},{"t":1.34,"v":52.7},{"t":1.36,"v":53.5},{"t":1.38,"v":55.3},
      {"t":1.4,"v":55.3},{"t":1.42,"v":53.6},{"t":1.44,"v":52.6},{"t":1.46,"v":53.8},{"t":1.48,"v":55.1},
      {"t":1.5,"v":55.0},{"t":1.52,"v":53.8},{"t":1.54,"v":52.9},{"t":1.56,"v":53.6},{"t":1.58,"v":55.2},
      {"t":1.6,"v":55.2},{"t":1.62,"v":53.6},{"t":1.64,"v":52.8},{"t":1.66,"v":53.9},{"t":1.68,"v":54.9},
      {"t":1.7,"v":54.8},{"t":1.72,"v":53.9},{"t":1.74,"v":53.2},{"t":1.76,"v":53.7},{"t":1.78,"v":55.0},
      {"t":1.8,"v":55.0},{"t":1.82,"v":53.7},{"t":1.84,"v":53.1},{"t":1.86,"v":53.9},{"t":1.88,"v":54.8},
      {"t":1.9,"v":54.7},{"t":1.92,"v":53.9},{"t":1.94,"v":53.3},{"t":1.96,"v":53.8},{"t":1.98,"v":54.9},
      {"t":2,"v":55.0},{"t":2.02,"v":54.1},{"t":2.04,"v":53.6},{"t":2.06,"v":54.2},{"t":2.08,"v":54.5},
      {"t":2.1,"v":54.7},{"t":2.12,"v":54.5},{"t":2.14,"v":53.9},{"t":2.16,"v":53.8},{"t":2.18,"v":54.9},
      {"t":2.2,"v":55.2},{"t":2.22,"v":54.2},{"t":2.24,"v":53.5},{"t":2.26,"v":54.1},{"t":2.28,"v":54.4},
      {"t":2.3,"v":54.8},{"t":2.32,"v":54.6},{"t":2.34,"v":53.8},{"t":2.36,"v":53.7},{"t":2.38,"v":55.0},
      {"t":2.4,"v":54.6},{"t":2.42,"v":54.0},{"t":2.44,"v":53.4},{"t":2.46,"v":54.3},{"t":2.48,"v":54.7},
      {"t":2.5,"v":55.3},{"t":2.52,"v":54.4},{"t":2.54,"v":53.7},{"t":2.56,"v":53.9},{"t":2.58,"v":54.5},
      {"t":2.6,"v":54.9},{"t":2.62,"v":54.7},{"t":2.64,"v":54.0},{"t":2.66,"v":53.6},{"t":2.68,"v":54.8},
      {"t":2.7,"v":55.1},{"t":2.72,"v":54.1},{"t":2.74,"v":53.3},{"t":2.76,"v":54.0},{"t":2.78,"v":54.6},
      {"t":2.8,"v":54.5},{"t":2.82,"v":54.5},{"t":2.84,"v":53.8},{"t":2.86,"v":54.2},{"t":2.88,"v":55.1},
      {"t":2.9,"v":55.0},{"t":2.92,"v":54.2},{"t":2.94,"v":53.6},{"t":2.96,"v":53.8},{"t":2.98,"v":54.4},
      {"t":3,"v":54.9},{"t":3.02,"v":54.3},{"t":3.04,"v":53.7},{"t":3.06,"v":54.0},{"t":3.08,"v":54.6},
      {"t":3.1,"v":55.2},{"t":3.12,"v":54.6},{"t":3.14,"v":53.9},{"t":3.16,"v":53.6},{"t":3.18,"v":54.3},
      {"t":3.2,"v":54.7},{"t":3.22,"v":54.4},{"t":3.24,"v":53.5},{"t":3.26,"v":53.9},{"t":3.28,"v":54.8},
      {"t":3.3,"v":55.0},{"t":3.32,"v":54.2},{"t":3.34,"v":53.8},{"t":3.36,"v":54.1},{"t":3.38,"v":54.5},
      {"t":3.4,"v":54.6},{"t":3.42,"v":54.7},{"t":3.44,"v":54.0},{"t":3.46,"v":53.7},{"t":3.48,"v":54.2},
      {"t":3.5,"v":55.3},{"t":3.52,"v":54.5},{"t":3.54,"v":53.6},{"t":3.56,"v":53.8},{"t":3.58,"v":54.6},
      {"t":3.6,"v":54.8},{"t":3.62,"v":54.3},{"t":3.64,"v":53.9},{"t":3.66,"v":54.2},{"t":3.68,"v":54.9},
      {"t":3.7,"v":55.1},{"t":3.72,"v":54.6},{"t":3.74,"v":53.7},{"t":3.76,"v":53.6},{"t":3.78,"v":54.4},
      {"t":3.8,"v":54.7},{"t":3.82,"v":54.2},{"t":3.84,"v":53.5},{"t":3.86,"v":53.9},{"t":3.88,"v":54.7},
      {"t":3.9,"v":55.0},{"t":3.92,"v":54.8},{"t":3.94,"v":53.8},{"t":3.96,"v":54.0},{"t":3.98,"v":54.5},
      {"t":4,"v":54.9},{"t":4.02,"v":54.5},{"t":4.04,"v":53.9},{"t":4.06,"v":53.7},{"t":4.08,"v":54.4},
      {"t":4.1,"v":55.2},{"t":4.12,"v":54.8},{"t":4.14,"v":54.1},{"t":4.16,"v":53.9},{"t":4.18,"v":54.2},
      {"t":4.2,"v":54.7},{"t":4.22,"v":54.6},{"t":4.24,"v":53.8},{"t":4.26,"v":54.1},{"t":4.28,"v":54.6},
      {"t":4.3,"v":55.0},{"t":4.32,"v":54.9},{"t":4.34,"v":54.2},{"t":4.36,"v":53.7},{"t":4.38,"v":54.3},
      {"t":4.4,"v":54.8},{"t":4.42,"v":54.4},{"t":4.44,"v":53.9},{"t":4.46,"v":54.0},{"t":4.48,"v":54.7},
      {"t":4.5,"v":55.3},{"t":4.52,"v":54.7},{"t":4.54,"v":54.1},{"t":4.56,"v":53.8},{"t":4.58,"v":54.4},
      {"t":4.6,"v":54.9},{"t":4.62,"v":55.0},{"t":4.64,"v":54.3},{"t":4.66,"v":54.0},{"t":4.68,"v":54.5},
      {"t":4.7,"v":55.1},{"t":4.72,"v":54.6},{"t":4.74,"v":53.9},{"t":4.76,"v":53.7},{"t":4.78,"v":54.6},
      {"t":4.8,"v":54.8},{"t":4.82,"v":54.9},{"t":4.84,"v":54.2},{"t":4.86,"v":54.1},{"t":4.88,"v":54.8},
      {"t":4.9,"v":55.2},{"t":4.92,"v":54.7},{"t":4.94,"v":54.0},{"t":4.96,"v":53.9},{"t":4.98,"v":54.5},
      {"t":5,"v":55.0}
    ],
    "p398": [
      {"t":0,"v":64.1},{"t":0.02,"v":61.2},{"t":0.04,"v":59.9},{"t":0.06,"v":62.3},{"t":0.08,"v":65.1},
      {"t":0.1,"v":63.9},{"t":0.12,"v":61.1},{"t":0.14,"v":60.2},{"t":0.16,"v":62.6},{"t":0.18,"v":64.6},
      {"t":0.2,"v":64.0},{"t":0.22,"v":61.0},{"t":0.24,"v":60.3},{"t":0.26,"v":62.4},{"t":0.28,"v":64.7},
      {"t":0.3,"v":63.7},{"t":0.32,"v":61.3},{"t":0.34,"v":60.4},{"t":0.36,"v":62.6},{"t":0.38,"v":64.5},
      {"t":0.4,"v":63.9},{"t":0.42,"v":61.2},{"t":0.44,"v":60.5},{"t":0.46,"v":62.3},{"t":0.48,"v":64.6},
      {"t":0.5,"v":63.6},{"t":0.52,"v":61.4},{"t":0.54,"v":60.7},{"t":0.56,"v":62.7},{"t":0.58,"v":64.2},
      {"t":0.6,"v":63.8},{"t":0.62,"v":61.3},{"t":0.64,"v":60.6},{"t":0.66,"v":62.4},{"t":0.68,"v":64.4},
      {"t":0.7,"v":63.4},{"t":0.72,"v":61.6},{"t":0.74,"v":60.9},{"t":0.76,"v":62.6},{"t":0.78,"v":64.0},
      {"t":0.8,"v":63.6},{"t":0.82,"v":61.4},{"t":0.84,"v":60.8},{"t":0.86,"v":62.3},{"t":0.88,"v":64.2},
      {"t":0.9,"v":63.3},{"t":0.92,"v":61.7},{"t":0.94,"v":61.1},{"t":0.96,"v":62.7},{"t":0.98,"v":63.8},
      {"t":1,"v":63.8},{"t":1.02,"v":61.9},{"t":1.04,"v":61.0},{"t":1.06,"v":62.2},{"t":1.08,"v":63.6},
      {"t":1.1,"v":63.5},{"t":1.12,"v":62.2},{"t":1.14,"v":61.2},{"t":1.16,"v":61.9},{"t":1.18,"v":63.7},
      {"t":1.2,"v":63.7},{"t":1.22,"v":62.0},{"t":1.24,"v":61.3},{"t":1.26,"v":62.3},{"t":1.28,"v":63.4},
      {"t":1.3,"v":63.3},{"t":1.32,"v":62.3},{"t":1.34,"v":61.4},{"t":1.36,"v":62.0},{"t":1.38,"v":63.6},
      {"t":1.4,"v":63.5},{"t":1.42,"v":62.1},{"t":1.44,"v":61.5},{"t":1.46,"v":62.4},{"t":1.48,"v":63.2},
      {"t":1.5,"v":63.1},{"t":1.52,"v":62.4},{"t":1.54,"v":61.6},{"t":1.56,"v":62.1},{"t":1.58,"v":63.5},
      {"t":1.6,"v":63.4},{"t":1.62,"v":62.0},{"t":1.64,"v":61.5},{"t":1.66,"v":62.4},{"t":1.68,"v":63.0},
      {"t":1.7,"v":63.0},{"t":1.72,"v":62.5},{"t":1.74,"v":61.8},{"t":1.76,"v":62.1},{"t":1.78,"v":63.3},
      {"t":1.8,"v":63.3},{"t":1.82,"v":62.1},{"t":1.84,"v":61.6},{"t":1.86,"v":62.6},{"t":1.88,"v":63.1},
      {"t":1.9,"v":62.9},{"t":1.92,"v":62.4},{"t":1.94,"v":61.9},{"t":1.96,"v":62.2},{"t":1.98,"v":63.4},
      {"t":2,"v":63.2},{"t":2.02,"v":62.0},{"t":2.04,"v":61.7},{"t":2.06,"v":62.9},{"t":2.08,"v":63.6},
      {"t":2.1,"v":62.8},{"t":2.12,"v":61.9},{"t":2.14,"v":62.5},{"t":2.16,"v":63.4},{"t":2.18,"v":62.6},
      {"t":2.2,"v":61.8},{"t":2.22,"v":62.3},{"t":2.24,"v":63.3},{"t":2.26,"v":63.1},{"t":2.28,"v":62.2},
      {"t":2.3,"v":61.7},{"t":2.32,"v":62.6},{"t":2.34,"v":63.7},{"t":2.36,"v":62.7},{"t":2.38,"v":61.9},
      {"t":2.4,"v":62.4},{"t":2.42,"v":63.5},{"t":2.44,"v":62.9},{"t":2.46,"v":62.0},{"t":2.48,"v":61.8},
      {"t":2.5,"v":62.7},{"t":2.52,"v":63.8},{"t":2.54,"v":63.0},{"t":2.56,"v":62.1},{"t":2.58,"v":62.5},
      {"t":2.6,"v":63.4},{"t":2.62,"v":62.6},{"t":2.64,"v":61.6},{"t":2.66,"v":62.2},{"t":2.68,"v":63.2},
      {"t":2.7,"v":63.0},{"t":2.72,"v":62.1},{"t":2.74,"v":61.9},{"t":2.76,"v":62.8},{"t":2.78,"v":63.5},
      {"t":2.8,"v":62.4},{"t":2.82,"v":61.7},{"t":2.84,"v":62.3},{"t":2.86,"v":63.3},{"t":2.88,"v":62.8},
      {"t":2.9,"v":62.0},{"t":2.92,"v":62.5},{"t":2.94,"v":63.6},{"t":2.96,"v":62.9},{"t":2.98,"v":62.1},
      {"t":3,"v":61.8},{"t":3.02,"v":62.7},{"t":3.04,"v":63.1},{"t":3.06,"v":62.4},{"t":3.08,"v":61.9},
      {"t":3.1,"v":62.5},{"t":3.12,"v":63.3},{"t":3.14,"v":62.6},{"t":3.16,"v":62.0},{"t":3.18,"v":62.2},
      {"t":3.2,"v":62.9},{"t":3.22,"v":63.0},{"t":3.24,"v":62.3},{"t":3.26,"v":61.7},{"t":3.28,"v":62.6},
      {"t":3.3,"v":63.4},{"t":3.32,"v":62.5},{"t":3.34,"v":61.9},{"t":3.36,"v":62.3},{"t":3.38,"v":63.0},
      {"t":3.4,"v":62.7},{"t":3.42,"v":62.0},{"t":3.44,"v":62.1},{"t":3.46,"v":62.8},{"t":3.48,"v":62.6},
      {"t":3.5,"v":62.2},{"t":3.52,"v":62.4},{"t":3.54,"v":63.2},{"t":3.56,"v":62.9},{"t":3.58,"v":62.1},
      {"t":3.6,"v":61.9},{"t":3.62,"v":62.8},{"t":3.64,"v":63.5},{"t":3.66,"v":62.6},{"t":3.68,"v":62.0},
      {"t":3.7,"v":62.3},{"t":3.72,"v":63.1},{"t":3.74,"v":62.7},{"t":3.76,"v":61.8},{"t":3.78,"v":62.4},
      {"t":3.8,"v":62.9},{"t":3.82,"v":62.6},{"t":3.84,"v":62.0},{"t":3.86,"v":62.2},{"t":3.88,"v":63.1},
      {"t":3.9,"v":63.3},{"t":3.92,"v":62.4},{"t":3.94,"v":61.8},{"t":3.96,"v":62.5},{"t":3.98,"v":62.9},
      {"t":4,"v":62.6},{"t":4.02,"v":62.0},{"t":4.04,"v":62.4},{"t":4.06,"v":63.2},{"t":4.08,"v":62.7},
      {"t":4.1,"v":62.1},{"t":4.12,"v":62.7},{"t":4.14,"v":63.4},{"t":4.16,"v":62.8},{"t":4.18,"v":62.2},
      {"t":4.2,"v":61.8},{"t":4.22,"v":62.5},{"t":4.24,"v":63.0},{"t":4.26,"v":62.4},{"t":4.28,"v":62.0},
      {"t":4.3,"v":62.4},{"t":4.32,"v":63.2},{"t":4.34,"v":62.9},{"t":4.36,"v":62.1},{"t":4.38,"v":62.3},
      {"t":4.4,"v":62.8},{"t":4.42,"v":63.6},{"t":4.44,"v":62.7},{"t":4.46,"v":61.9},{"t":4.48,"v":62.5},
      {"t":4.5,"v":63.1},{"t":4.52,"v":62.6},{"t":4.54,"v":62.0},{"t":4.56,"v":62.3},{"t":4.58,"v":63.0},
      {"t":4.6,"v":62.7},{"t":4.62,"v":62.2},{"t":4.64,"v":61.8},{"t":4.66,"v":62.6},{"t":4.68,"v":63.4},
      {"t":4.7,"v":62.9},{"t":4.72,"v":62.3},{"t":4.74,"v":62.2},{"t":4.76,"v":62.9},{"t":4.78,"v":63.2},
      {"t":4.8,"v":62.5},{"t":4.82,"v":61.9},{"t":4.84,"v":62.5},{"t":4.86,"v":63.3},{"t":4.88,"v":62.8},
      {"t":4.9,"v":62.2},{"t":4.92,"v":62.6},{"t":4.94,"v":63.1},{"t":4.96,"v":62.7},{"t":4.98,"v":62.4},
      {"t":5,"v":62.9}
    ],
    "p501": [
      {"t":0,"v":72.7},{"t":0.02,"v":69.4},{"t":0.04,"v":68.1},{"t":0.06,"v":70.9},{"t":0.08,"v":74.3},
      {"t":0.1,"v":72.5},{"t":0.12,"v":69.7},{"t":0.14,"v":68.9},{"t":0.16,"v":71.3},{"t":0.18,"v":73.1},
      {"t":0.2,"v":72.2},{"t":0.22,"v":69.9},{"t":0.24,"v":69.0},{"t":0.26,"v":70.9},{"t":0.28,"v":73.3},
      {"t":0.3,"v":72.6},{"t":0.32,"v":69.7},{"t":0.34,"v":69.2},{"t":0.36,"v":71.2},{"t":0.38,"v":72.9},
      {"t":0.4,"v":72.1},{"t":0.42,"v":70.1},{"t":0.44,"v":69.1},{"t":0.46,"v":71.0},{"t":0.48,"v":73.2},
      {"t":0.5,"v":72.4},{"t":0.52,"v":69.8},{"t":0.54,"v":69.4},{"t":0.56,"v":71.3},{"t":0.58,"v":72.7},
      {"t":0.6,"v":72.3},{"t":0.62,"v":69.9},{"t":0.64,"v":69.1},{"t":0.66,"v":71.0},{"t":0.68,"v":73.1},
      {"t":0.7,"v":72.0},{"t":0.72,"v":70.2},{"t":0.74,"v":69.6},{"t":0.76,"v":71.2},{"t":0.78,"v":72.8},
      {"t":0.8,"v":72.2},{"t":0.82,"v":70.0},{"t":0.84,"v":69.7},{"t":0.86,"v":71.0},{"t":0.88,"v":72.5},
      {"t":0.9,"v":71.9},{"t":0.92,"v":70.3},{"t":0.94,"v":69.6},{"t":0.96,"v":71.3},{"t":0.98,"v":72.6},
      {"t":1,"v":72.3},{"t":1.02,"v":70.6},{"t":1.04,"v":69.8},{"t":1.06,"v":70.8},{"t":1.08,"v":72.1},
      {"t":1.1,"v":72.0},{"t":1.12,"v":70.8},{"t":1.14,"v":69.9},{"t":1.16,"v":70.6},{"t":1.18,"v":72.2},
      {"t":1.2,"v":72.1},{"t":1.22,"v":70.6},{"t":1.24,"v":70.0},{"t":1.26,"v":70.9},{"t":1.28,"v":71.9},
      {"t":1.3,"v":71.8},{"t":1.32,"v":70.9},{"t":1.34,"v":70.1},{"t":1.36,"v":70.7},{"t":1.38,"v":72.0},
      {"t":1.4,"v":72.0},{"t":1.42,"v":70.7},{"t":1.44,"v":70.2},{"t":1.46,"v":71.0},{"t":1.48,"v":71.8},
      {"t":1.5,"v":71.7},{"t":1.52,"v":70.9},{"t":1.54,"v":70.3},{"t":1.56,"v":70.8},{"t":1.58,"v":71.9},
      {"t":1.6,"v":71.8},{"t":1.62,"v":70.8},{"t":1.64,"v":70.4},{"t":1.66,"v":71.0},{"t":1.68,"v":71.6},
      {"t":1.7,"v":71.6},{"t":1.72,"v":70.9},{"t":1.74,"v":70.5},{"t":1.76,"v":71.2},{"t":1.78,"v":71.9},
      {"t":1.8,"v":71.5},{"t":1.82,"v":70.7},{"t":1.84,"v":70.6},{"t":1.86,"v":71.1},{"t":1.88,"v":71.8},
      {"t":1.9,"v":71.7},{"t":1.92,"v":71.0},{"t":1.94,"v":70.4},{"t":1.96,"v":70.9},{"t":1.98,"v":71.6},
      {"t":2,"v":71.6},{"t":2.02,"v":71.0},{"t":2.04,"v":70.5},{"t":2.06,"v":71.3},{"t":2.08,"v":70.8},
      {"t":2.1,"v":71.9},{"t":2.12,"v":71.2},{"t":2.14,"v":70.4},{"t":2.16,"v":70.9},{"t":2.18,"v":71.7},
      {"t":2.2,"v":72.2},{"t":2.22,"v":71.1},{"t":2.24,"v":70.6},{"t":2.26,"v":71.4},{"t":2.28,"v":70.2},
      {"t":2.3,"v":70.9},{"t":2.32,"v":71.5},{"t":2.34,"v":72.0},{"t":2.36,"v":71.3},{"t":2.38,"v":70.7},
      {"t":2.4,"v":71.2},{"t":2.42,"v":70.5},{"t":2.44,"v":71.8},{"t":2.46,"v":72.3},{"t":2.48,"v":71.0},
      {"t":2.5,"v":70.4},{"t":2.52,"v":70.8},{"t":2.54,"v":71.5},{"t":2.56,"v":70.9},{"t":2.58,"v":71.6},
      {"t":2.6,"v":72.1},{"t":2.62,"v":71.4},{"t":2.64,"v":70.3},{"t":2.66,"v":70.7},{"t":2.68,"v":71.2},
      {"t":2.7,"v":71.8},{"t":2.72,"v":71.0},{"t":2.74,"v":71.5},{"t":2.76,"v":70.6},{"t":2.78,"v":70.1},
      {"t":2.8,"v":70.9},{"t":2.82,"v":71.7},{"t":2.84,"v":72.2},{"t":2.86,"v":71.5},{"t":2.88,"v":70.8},
      {"t":2.9,"v":71.3},{"t":2.92,"v":70.6},{"t":2.94,"v":70.9},{"t":2.96,"v":71.6},{"t":2.98,"v":72.4},
      {"t":3,"v":71.4},{"t":3.02,"v":70.7},{"t":3.04,"v":71.0},{"t":3.06,"v":70.3},{"t":3.08,"v":71.1},
      {"t":3.1,"v":71.8},{"t":3.12,"v":71.2},{"t":3.14,"v":72.0},{"t":3.16,"v":71.3},{"t":3.18,"v":70.6},
      {"t":3.2,"v":70.2},{"t":3.22,"v":70.9},{"t":3.24,"v":71.4},{"t":3.26,"v":70.8},{"t":3.28,"v":71.5},
      {"t":3.3,"v":72.3},{"t":3.32,"v":71.6},{"t":3.34,"v":70.9},{"t":3.36,"v":71.2},{"t":3.38,"v":70.5},
      {"t":3.4,"v":70.8},{"t":3.42,"v":71.7},{"t":3.44,"v":71.3},{"t":3.46,"v":72.1},{"t":3.48,"v":71.4},
      {"t":3.5,"v":70.6},{"t":3.52,"v":70.2},{"t":3.54,"v":71.0},{"t":3.56,"v":71.6},{"t":3.58,"v":70.9},
      {"t":3.6,"v":71.5},{"t":3.62,"v":72.2},{"t":3.64,"v":71.1},{"t":3.66,"v":70.5},{"t":3.68,"v":71.2},
      {"t":3.7,"v":71.8},{"t":3.72,"v":71.0},{"t":3.74,"v":70.4},{"t":3.76,"v":70.9},{"t":3.78,"v":71.7},
      {"t":3.8,"v":71.2},{"t":3.82,"v":70.7},{"t":3.84,"v":71.9},{"t":3.86,"v":72.3},{"t":3.88,"v":71.3},
      {"t":3.9,"v":70.8},{"t":3.92,"v":71.4},{"t":3.94,"v":70.6},{"t":3.96,"v":70.1},{"t":3.98,"v":70.9},
      {"t":4,"v":71.6},{"t":4.02,"v":72.0},{"t":4.04,"v":71.2},{"t":4.06,"v":71.7},{"t":4.08,"v":70.8},
      {"t":4.1,"v":70.5},{"t":4.12,"v":71.1},{"t":4.14,"v":71.8},{"t":4.16,"v":71.0},{"t":4.18,"v":72.2},
      {"t":4.2,"v":71.4},{"t":4.22,"v":70.6},{"t":4.24,"v":70.3},{"t":4.26,"v":71.2},{"t":4.28,"v":71.9},
      {"t":4.3,"v":71.3},{"t":4.32,"v":72.4},{"t":4.34,"v":71.5},{"t":4.36,"v":70.8},{"t":4.38,"v":71.1},
      {"t":4.4,"v":70.4},{"t":4.42,"v":70.9},{"t":4.44,"v":71.6},{"t":4.46,"v":72.1},{"t":4.48,"v":71.0},
      {"t":4.5,"v":70.7},{"t":4.52,"v":71.5},{"t":4.54,"v":70.9},{"t":4.56,"v":71.3},{"t":4.58,"v":72.0},
      {"t":4.6,"v":71.2},{"t":4.62,"v":70.5},{"t":4.64,"v":71.7},{"t":4.66,"v":70.8},{"t":4.68,"v":70.2},
      {"t":4.7,"v":71.0},{"t":4.72,"v":71.8},{"t":4.74,"v":72.3},{"t":4.76,"v":71.4},{"t":4.78,"v":70.9},
      {"t":4.8,"v":71.6},{"t":4.82,"v":70.7},{"t":4.84,"v":71.1},{"t":4.86,"v":71.9},{"t":4.88,"v":71.3},
      {"t":4.9,"v":70.6},{"t":4.92,"v":71.2},{"t":4.94,"v":70.8},{"t":4.96,"v":71.7},{"t":4.98,"v":72.1},
      {"t":5,"v":71.4}
    ],
    "p631": [
      {"t":0,"v":81.3},{"t":0.02,"v":78.1},{"t":0.04,"v":77.1},{"t":0.06,"v":79.6},{"t":0.08,"v":82.6},
      {"t":0.1,"v":80.6},{"t":0.12,"v":78.3},{"t":0.14,"v":77.5},{"t":0.16,"v":79.3},{"t":0.18,"v":81.0},
      {"t":0.2,"v":80.4},{"t":0.22,"v":78.0},{"t":0.24,"v":77.2},{"t":0.26,"v":79.5},{"t":0.28,"v":81.2},
      {"t":0.3,"v":79.9},{"t":0.32,"v":77.6},{"t":0.34,"v":77.3},{"t":0.36,"v":80.1},{"t":0.38,"v":81.8},
      {"t":0.4,"v":81.0},{"t":0.42,"v":78.8},{"t":0.44,"v":78.0},{"t":0.46,"v":80.2},{"t":0.48,"v":81.7},
      {"t":0.5,"v":80.8},{"t":0.52,"v":78.9},{"t":0.54,"v":78.3},{"t":0.56,"v":79.8},{"t":0.58,"v":81.5},
      {"t":0.6,"v":81.1},{"t":0.62,"v":78.7},{"t":0.64,"v":78.4},{"t":0.66,"v":80.3},{"t":0.68,"v":81.3},
      {"t":0.7,"v":80.6},{"t":0.72,"v":79.1},{"t":0.74,"v":78.5},{"t":0.76,"v":79.7},{"t":0.78,"v":81.2},
      {"t":0.8,"v":80.9},{"t":0.82,"v":78.9},{"t":0.84,"v":78.6},{"t":0.86,"v":80.1},{"t":0.88,"v":81.4},
      {"t":0.9,"v":80.5},{"t":0.92,"v":79.3},{"t":0.94,"v":78.7},{"t":0.96,"v":79.8},{"t":0.98,"v":81.0},
      {"t":1,"v":81.0},{"t":1.02,"v":79.4},{"t":1.04,"v":78.8},{"t":1.06,"v":79.6},{"t":1.08,"v":80.8},
      {"t":1.1,"v":80.7},{"t":1.12,"v":79.7},{"t":1.14,"v":78.9},{"t":1.16,"v":79.4},{"t":1.18,"v":80.9},
      {"t":1.2,"v":80.8},{"t":1.22,"v":79.5},{"t":1.24,"v":79.0},{"t":1.26,"v":79.7},{"t":1.28,"v":80.6},
      {"t":1.3,"v":80.5},{"t":1.32,"v":79.7},{"t":1.34,"v":79.1},{"t":1.36,"v":79.5},{"t":1.38,"v":80.8},
      {"t":1.4,"v":80.7},{"t":1.42,"v":79.6},{"t":1.44,"v":79.0},{"t":1.46,"v":79.8},{"t":1.48,"v":80.5},
      {"t":1.5,"v":80.3},{"t":1.52,"v":79.5},{"t":1.54,"v":79.2},{"t":1.56,"v":79.9},{"t":1.58,"v":80.4},
      {"t":1.6,"v":79.7},{"t":1.62,"v":79.1},{"t":1.64,"v":79.6},{"t":1.66,"v":80.2},{"t":1.68,"v":79.8},
      {"t":1.7,"v":79.3},{"t":1.72,"v":79.8},{"t":1.74,"v":80.4},{"t":1.76,"v":79.9},{"t":1.78,"v":79.2},
      {"t":1.8,"v":79.5},{"t":1.82,"v":80.1},{"t":1.84,"v":79.7},{"t":1.86,"v":79.0},{"t":1.88,"v":79.4},
      {"t":1.9,"v":80.0},{"t":1.92,"v":80.3},{"t":1.94,"v":79.6},{"t":1.96,"v":79.1},{"t":1.98,"v":79.8},
      {"t":2,"v":80.2},{"t":2.02,"v":79.6},{"t":2.04,"v":79.3},{"t":2.06,"v":79.7},{"t":2.08,"v":80.1},
      {"t":2.1,"v":79.8},{"t":2.12,"v":79.4},{"t":2.14,"v":79.9},{"t":2.16,"v":80.3},{"t":2.18,"v":80.0},
      {"t":2.2,"v":79.6},{"t":2.22,"v":80.2},{"t":2.24,"v":80.6},{"t":2.26,"v":80.0},{"t":2.28,"v":79.5},
      {"t":2.3,"v":80.1},{"t":2.32,"v":80.6},{"t":2.34,"v":79.7},{"t":2.36,"v":80.9},{"t":2.38,"v":80.2},
      {"t":2.4,"v":79.4},{"t":2.42,"v":79.8},{"t":2.44,"v":80.5},{"t":2.46,"v":81.3},{"t":2.48,"v":80.4},
      {"t":2.5,"v":80.7},{"t":2.52,"v":79.9},{"t":2.54,"v":79.5},{"t":2.56,"v":80.2},{"t":2.58,"v":79.6},
      {"t":2.6,"v":80.3},{"t":2.62,"v":81.1},{"t":2.64,"v":80.0},{"t":2.66,"v":79.3},{"t":2.68,"v":79.9},
      {"t":2.7,"v":79.6},{"t":2.72,"v":80.4},{"t":2.74,"v":80.1},{"t":2.76,"v":80.8},{"t":2.78,"v":81.4},
      {"t":2.8,"v":80.5},{"t":2.82,"v":79.7},{"t":2.84,"v":80.3},{"t":2.86,"v":79.2},{"t":2.88,"v":79.5},
      {"t":2.9,"v":80.2},{"t":2.92,"v":80.0},{"t":2.94,"v":80.7},{"t":2.96,"v":80.3},{"t":2.98,"v":81.2},
      {"t":3,"v":80.4},{"t":3.02,"v":79.6},{"t":3.04,"v":79.9},{"t":3.06,"v":80.6},{"t":3.08,"v":79.8},
      {"t":3.1,"v":79.1},{"t":3.12,"v":79.7},{"t":3.14,"v":80.5},{"t":3.16,"v":80.2},{"t":3.18,"v":80.9},
      {"t":3.2,"v":81.3},{"t":3.22,"v":80.1},{"t":3.24,"v":79.4},{"t":3.26,"v":80.0},{"t":3.28,"v":79.7},
      {"t":3.3,"v":80.4},{"t":3.32,"v":80.8},{"t":3.34,"v":80.2},{"t":3.36,"v":79.6},{"t":3.38,"v":80.3},
      {"t":3.4,"v":79.3},{"t":3.42,"v":79.9},{"t":3.44,"v":80.7},{"t":3.46,"v":81.5},{"t":3.48,"v":80.6},
      {"t":3.5,"v":79.8},{"t":3.52,"v":80.3},{"t":3.54,"v":79.5},{"t":3.56,"v":80.0},{"t":3.58,"v":80.8},
      {"t":3.6,"v":80.2},{"t":3.62,"v":79.4},{"t":3.64,"v":79.9},{"t":3.66,"v":80.4},{"t":3.68,"v":81.0},
      {"t":3.7,"v":80.1},{"t":3.72,"v":80.6},{"t":3.74,"v":79.7},{"t":3.76,"v":79.2},{"t":3.78,"v":80.3},
      {"t":3.8,"v":80.9},{"t":3.82,"v":81.4},{"t":3.84,"v":80.2},{"t":3.86,"v":79.6},{"t":3.88,"v":80.5},
      {"t":3.9,"v":79.9},{"t":3.92,"v":80.3},{"t":3.94,"v":81.1},{"t":3.96,"v":80.0},{"t":3.98,"v":79.4},
      {"t":4,"v":79.7},{"t":4.02,"v":80.8},{"t":4.04,"v":80.3},{"t":4.06,"v":80.9},{"t":4.08,"v":81.3},
      {"t":4.1,"v":80.4},{"t":4.12,"v":79.5},{"t":4.14,"v":80.1},{"t":4.16,"v":79.8},{"t":4.18,"v":80.6},
      {"t":4.2,"v":81.2},{"t":4.22,"v":80.0},{"t":4.24,"v":79.3},{"t":4.26,"v":80.2},{"t":4.28,"v":80.7},
      {"t":4.3,"v":80.3},{"t":4.32,"v":81.0},{"t":4.34,"v":80.5},{"t":4.36,"v":79.6},{"t":4.38,"v":79.9},
      {"t":4.4,"v":80.6},{"t":4.42,"v":79.8},{"t":4.44,"v":80.9},{"t":4.46,"v":81.5},{"t":4.48,"v":80.4},
      {"t":4.5,"v":79.7},{"t":4.52,"v":80.2},{"t":4.54,"v":79.4},{"t":4.56,"v":80.1},{"t":4.58,"v":80.8},
      {"t":4.6,"v":81.1},{"t":4.62,"v":80.3},{"t":4.64,"v":79.9},{"t":4.66,"v":80.5},{"t":4.68,"v":80.0},
      {"t":4.7,"v":79.5},{"t":4.72,"v":80.4},{"t":4.74,"v":81.2},{"t":4.76,"v":80.7},{"t":4.78,"v":79.8},
      {"t":4.8,"v":80.1},{"t":4.82,"v":80.9},{"t":4.84,"v":80.4},{"t":4.86,"v":81.3},{"t":4.88,"v":80.2},
      {"t":4.9,"v":79.6},{"t":4.92,"v":80.5},{"t":4.94,"v":80.0},{"t":4.96,"v":80.8},{"t":4.98,"v":81.0},
      {"t":5,"v":80.3}
    ],
    "fits": [
      {"p":"6.31","t":0,"v":82.1},{"p":"6.31","t":0.5,"v":81.0},{"p":"6.31","t":1,"v":80.5},{"p":"6.31","t":1.5,"v":80.3},{"p":"6.31","t":2,"v":80.2},{"p":"6.31","t":2.5,"v":80.16},{"p":"6.31","t":3,"v":80.14},{"p":"6.31","t":3.5,"v":80.13},{"p":"6.31","t":4,"v":80.13},{"p":"6.31","t":4.5,"v":80.13},{"p":"6.31","t":5,"v":80.13},
      {"p":"5.01","t":0,"v":73.7},{"p":"5.01","t":0.5,"v":72.9},{"p":"5.01","t":1,"v":72.45},{"p":"5.01","t":1.5,"v":72.21},{"p":"5.01","t":2,"v":72.07},{"p":"5.01","t":2.5,"v":72.0},{"p":"5.01","t":3,"v":71.95},{"p":"5.01","t":3.5,"v":71.93},{"p":"5.01","t":4,"v":71.92},{"p":"5.01","t":4.5,"v":71.91},{"p":"5.01","t":5,"v":71.9},
      {"p":"3.98","t":0,"v":65.4},{"p":"3.98","t":0.5,"v":64.71},{"p":"3.98","t":1,"v":64.26},{"p":"3.98","t":1.5,"v":63.97},{"p":"3.98","t":2,"v":63.77},{"p":"3.98","t":2.5,"v":63.65},{"p":"3.98","t":3,"v":63.56},{"p":"3.98","t":3.5,"v":63.51},{"p":"3.98","t":4,"v":63.47},{"p":"3.98","t":4.5,"v":63.45},{"p":"3.98","t":5,"v":63.43},
      {"p":"3.16","t":0,"v":56.87},{"p":"3.16","t":0.5,"v":56.19},{"p":"3.16","t":1,"v":55.71},{"p":"3.16","t":1.5,"v":55.37},{"p":"3.16","t":2,"v":55.12},{"p":"3.16","t":2.5,"v":54.94},{"p":"3.16","t":3,"v":54.82},{"p":"3.16","t":3.5,"v":54.73},{"p":"3.16","t":4,"v":54.66},{"p":"3.16","t":4.5,"v":54.62},{"p":"3.16","t":5,"v":54.58},
      {"p":"2.51","t":0,"v":48.2},{"p":"2.51","t":0.5,"v":47.59},{"p":"2.51","t":1,"v":47.13},{"p":"2.51","t":1.5,"v":46.79},{"p":"2.51","t":2,"v":46.53},{"p":"2.51","t":2.5,"v":46.34},{"p":"2.51","t":3,"v":46.19},{"p":"2.51","t":3.5,"v":46.08},{"p":"2.51","t":4,"v":46.0},{"p":"2.51","t":4.5,"v":45.94},{"p":"2.51","t":5,"v":45.89},
      {"p":"2.00","t":0,"v":39.53},{"p":"2.00","t":0.5,"v":39.01},{"p":"2.00","t":1,"v":38.6},{"p":"2.00","t":1.5,"v":38.27},{"p":"2.00","t":2,"v":38.0},{"p":"2.00","t":2.5,"v":37.8},{"p":"2.00","t":3,"v":37.64},{"p":"2.00","t":3.5,"v":37.5},{"p":"2.00","t":4,"v":37.4},{"p":"2.00","t":4.5,"v":37.32},{"p":"2.00","t":5,"v":37.25},
      {"p":"1.58","t":0,"v":30.4},{"p":"1.58","t":0.5,"v":29.91},{"p":"1.58","t":1,"v":29.51},{"p":"1.58","t":1.5,"v":29.18},{"p":"1.58","t":2,"v":28.9},{"p":"1.58","t":2.5,"v":28.67},{"p":"1.58","t":3,"v":28.49},{"p":"1.58","t":3.5,"v":28.33},{"p":"1.58","t":4,"v":28.2},{"p":"1.58","t":4.5,"v":28.1},{"p":"1.58","t":5,"v":28.01},
      {"p":"1.26","t":0,"v":21.7},{"p":"1.26","t":0.5,"v":21.12},{"p":"1.26","t":1,"v":20.62},{"p":"1.26","t":1.5,"v":20.21},{"p":"1.26","t":2,"v":19.86},{"p":"1.26","t":2.5,"v":19.57},{"p":"1.26","t":3,"v":19.32},{"p":"1.26","t":3.5,"v":19.11},{"p":"1.26","t":4,"v":18.93},{"p":"1.26","t":4.5,"v":18.79},{"p":"1.26","t":5,"v":18.66},
      {"p":"1.00","t":0,"v":12.4},{"p":"1.00","t":0.5,"v":12.05},{"p":"1.00","t":1,"v":11.75},{"p":"1.00","t":1.5,"v":11.5},{"p":"1.00","t":2,"v":11.29},{"p":"1.00","t":2.5,"v":11.12},{"p":"1.00","t":3,"v":10.97},{"p":"1.00","t":3.5,"v":10.85},{"p":"1.00","t":4,"v":10.74},{"p":"1.00","t":4.5,"v":10.65},{"p":"1.00","t":5,"v":10.58}
    ],
    "powers": [
      {"p":"6.31","t":4.92,"v":82.13},{"p":"5.01","t":4.92,"v":73.36},{"p":"3.98","t":4.92,"v":64.58},
      {"p":"3.16","t":4.92,"v":55.81},{"p":"2.51","t":4.92,"v":47.03},{"p":"2.00","t":4.92,"v":38.26},
      {"p":"1.58","t":4.92,"v":29.48},{"p":"1.26","t":4.92,"v":20.71},{"p":"1.00","t":4.92,"v":11.93}
    ],
    "heading": [
      {"p":"Coherent","t":4.986,"v":87.75},
      {"p":"drive power (nW)","t":5.032,"v":84.6}
    ]
  },
  "encoding": {
    "x": {
      "field": "t",
      "type": "quantitative",
      "scale": {"domain": [-0.102, 5.17], "nice": false, "zero": false},
      "axis": {
        "title": "Wait time (μs)",
        "values": [1, 2, 3, 4, 5],
        "offset": -44,
        "grid": false,
        "ticks": false,
        "tickSize": 0,
        "labelPadding": 9,
        "labelFontSize": 17,
        "labelColor": "#6e6e6e",
        "labelFont": "Liberation Sans",
        "domainColor": "#8c8c8c",
        "domainWidth": 1,
        "titleFont": "Liberation Sans",
        "titleFontSize": 22,
        "titleFontWeight": "normal",
        "titleColor": "#6e6e6e",
        "titleBaseline": "alphabetic",
        "titleY": 46
      }
    },
    "y": {
      "field": "v",
      "type": "quantitative",
      "scale": {"domain": [0, 87], "nice": false, "zero": false},
      "axis": {
        "title": "Inversion (Arb. Units)",
        "offset": -13.3,
        "grid": false,
        "ticks": false,
        "labels": false,
        "domainColor": "#8c8c8c",
        "domainWidth": 1,
        "titleFont": "Liberation Sans",
        "titleFontSize": 22,
        "titleFontWeight": "normal",
        "titleColor": "#6e6e6e",
        "titleAngle": 0,
        "titleAlign": "left",
        "titleBaseline": "alphabetic",
        "titleX": 4.7,
        "titleY": 23
      }
    }
  },
  "layer": [
    {"data": {"name": "p100"}, "mark": {"type": "line", "color": "#808080", "strokeWidth": 1.2, "point": {"filled": true, "size": 9, "color": "#808080"}}},
    {"data": {"name": "p126"}, "mark": {"type": "line", "color": "#808080", "strokeWidth": 1.2, "point": {"filled": true, "size": 9, "color": "#808080"}}},
    {"data": {"name": "p158"}, "mark": {"type": "line", "color": "#808080", "strokeWidth": 1.2, "point": {"filled": true, "size": 9, "color": "#808080"}}},
    {"data": {"name": "p200"}, "mark": {"type": "line", "color": "#808080", "strokeWidth": 1.2, "point": {"filled": true, "size": 9, "color": "#808080"}}},
    {"data": {"name": "p251"}, "mark": {"type": "line", "color": "#808080", "strokeWidth": 1.2, "point": {"filled": true, "size": 9, "color": "#808080"}}},
    {"data": {"name": "p316"}, "mark": {"type": "line", "color": "#808080", "strokeWidth": 1.2, "point": {"filled": true, "size": 9, "color": "#808080"}}},
    {"data": {"name": "p398"}, "mark": {"type": "line", "color": "#808080", "strokeWidth": 1.2, "point": {"filled": true, "size": 9, "color": "#808080"}}},
    {"data": {"name": "p501"}, "mark": {"type": "line", "color": "#808080", "strokeWidth": 1.2, "point": {"filled": true, "size": 9, "color": "#808080"}}},
    {"data": {"name": "p631"}, "mark": {"type": "line", "color": "#808080", "strokeWidth": 1.2, "point": {"filled": true, "size": 9, "color": "#808080"}}},
    {
      "data": {"name": "fits"},
      "mark": {"type": "line", "color": "#ff0000", "strokeWidth": 2.3, "interpolate": "monotone"},
      "encoding": {"detail": {"field": "p", "type": "nominal"}}
    },
    {
      "data": {"name": "powers"},
      "mark": {"type": "text", "align": "right", "baseline": "alphabetic", "font": "Liberation Sans", "fontSize": 21, "fill": "#6e6e6e"},
      "encoding": {"text": {"field": "p", "type": "nominal"}}
    },
    {
      "data": {"name": "heading"},
      "mark": {"type": "text", "align": "right", "baseline": "alphabetic", "font": "Liberation Sans", "fontSize": 21, "fill": "#6e6e6e", "clip": false},
      "encoding": {"text": {"field": "p", "type": "nominal"}}
    }
  ]
}
